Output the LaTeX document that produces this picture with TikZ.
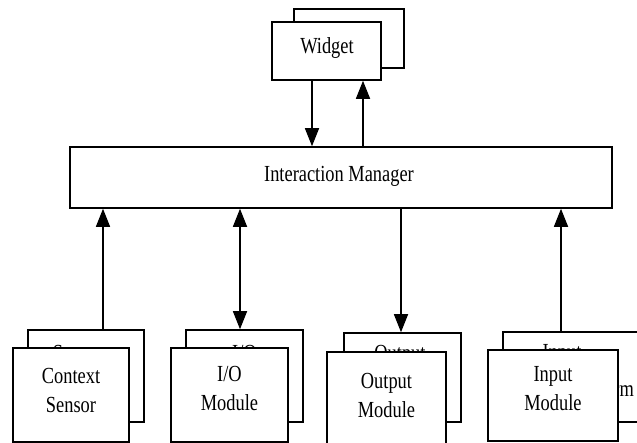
\documentclass[tikz,border=0pt]{standalone}
\usepackage{fontspec}
\setmainfont{Liberation Serif}[FakeStretch=0.8]
\usetikzlibrary{arrows.meta}
\begin{document}
\begin{tikzpicture}[x=1pt,y=-1pt,
  box/.style={draw,line width=1.6pt,fill=white,inner sep=0pt},
  lbl/.style={align=center,inner sep=0pt,font=\fontsize{23}{29}\selectfont},
  tip/.tip={Triangle[width=14pt,length=18pt]},
  flow/.style={line width=1.6pt,-tip},
  both/.style={line width=1.6pt,tip-tip}]
\useasboundingbox (0,0) rectangle (637,443);

% Widget stack
\node[box,minimum width=110pt,minimum height=59pt] (wB) at (349,38.5) {};
\node[box,minimum width=109pt,minimum height=58pt] (wF) at (326.5,51) {};
\node[lbl] (wT) at (327,48) {Widget};

% Interaction manager
\node[box,minimum width=542pt,minimum height=61pt] (im) at (341,177.5) {};
\node[lbl] (imT) at (339,176) {Interaction Manager};

% Back boxes of the module stacks (their labels are mostly hidden)
\node[box,minimum width=116pt,minimum height=92pt] (ctxB) at (86,376) {};
\node[lbl] (ctxBT) at (78,353) {Sensor};
\node[box,minimum width=117pt,minimum height=92pt] (ioB) at (244.5,376) {};
\node[lbl] (ioBT) at (244.5,353) {I/O};
\node[box,minimum width=117pt,minimum height=89pt] (outB) at (402.5,377.5) {};
\node[lbl] (outBT) at (400,355) {Output};
\node[box,minimum width=147pt,minimum height=90pt] (inB) at (576.5,377) {};
\node[lbl] (inBT) at (562,354) {Input};
\node[lbl,anchor=east] (inBT2) at (634,389) {Platform};

% Front boxes of the module stacks
\node[box,minimum width=116pt,minimum height=94pt] (ctx) at (71,395) {};
\node[lbl] (ctxT) at (71,390) {Context\\Sensor};
\node[box,minimum width=117pt,minimum height=94pt] (io) at (229.5,395) {};
\node[lbl] (ioT) at (229.5,388) {I/O\\Module};
\node[box,minimum width=119pt,minimum height=96pt] (out) at (386.5,400) {};
\node[lbl] (outT) at (386.5,395.5) {Output\\Module};
\node[box,minimum width=130pt,minimum height=91pt] (in) at (553,395.5) {};
\node[lbl] (inT) at (553,388.5) {Input\\Module};

% Connector columns
\coordinate (xwd) at (312,0);
\coordinate (xwu) at (363,0);
\coordinate (xc) at (103,0);
\coordinate (xio) at (240,0);
\coordinate (xo) at (401,0);
\coordinate (xi) at (561,0);

\draw[flow] (wF.south -| xwd) -- (im.north -| xwd);
\draw[flow] (im.north -| xwu) -- (wF.south -| xwu);
\draw[flow] (ctxB.north -| xc) -- (im.south -| xc);
\draw[both] (im.south -| xio) -- (ioB.north -| xio);
\draw[flow] (im.south -| xo) -- (outB.north -| xo);
\draw[flow] (inB.north -| xi) -- (im.south -| xi);
\end{tikzpicture}
\end{document}
